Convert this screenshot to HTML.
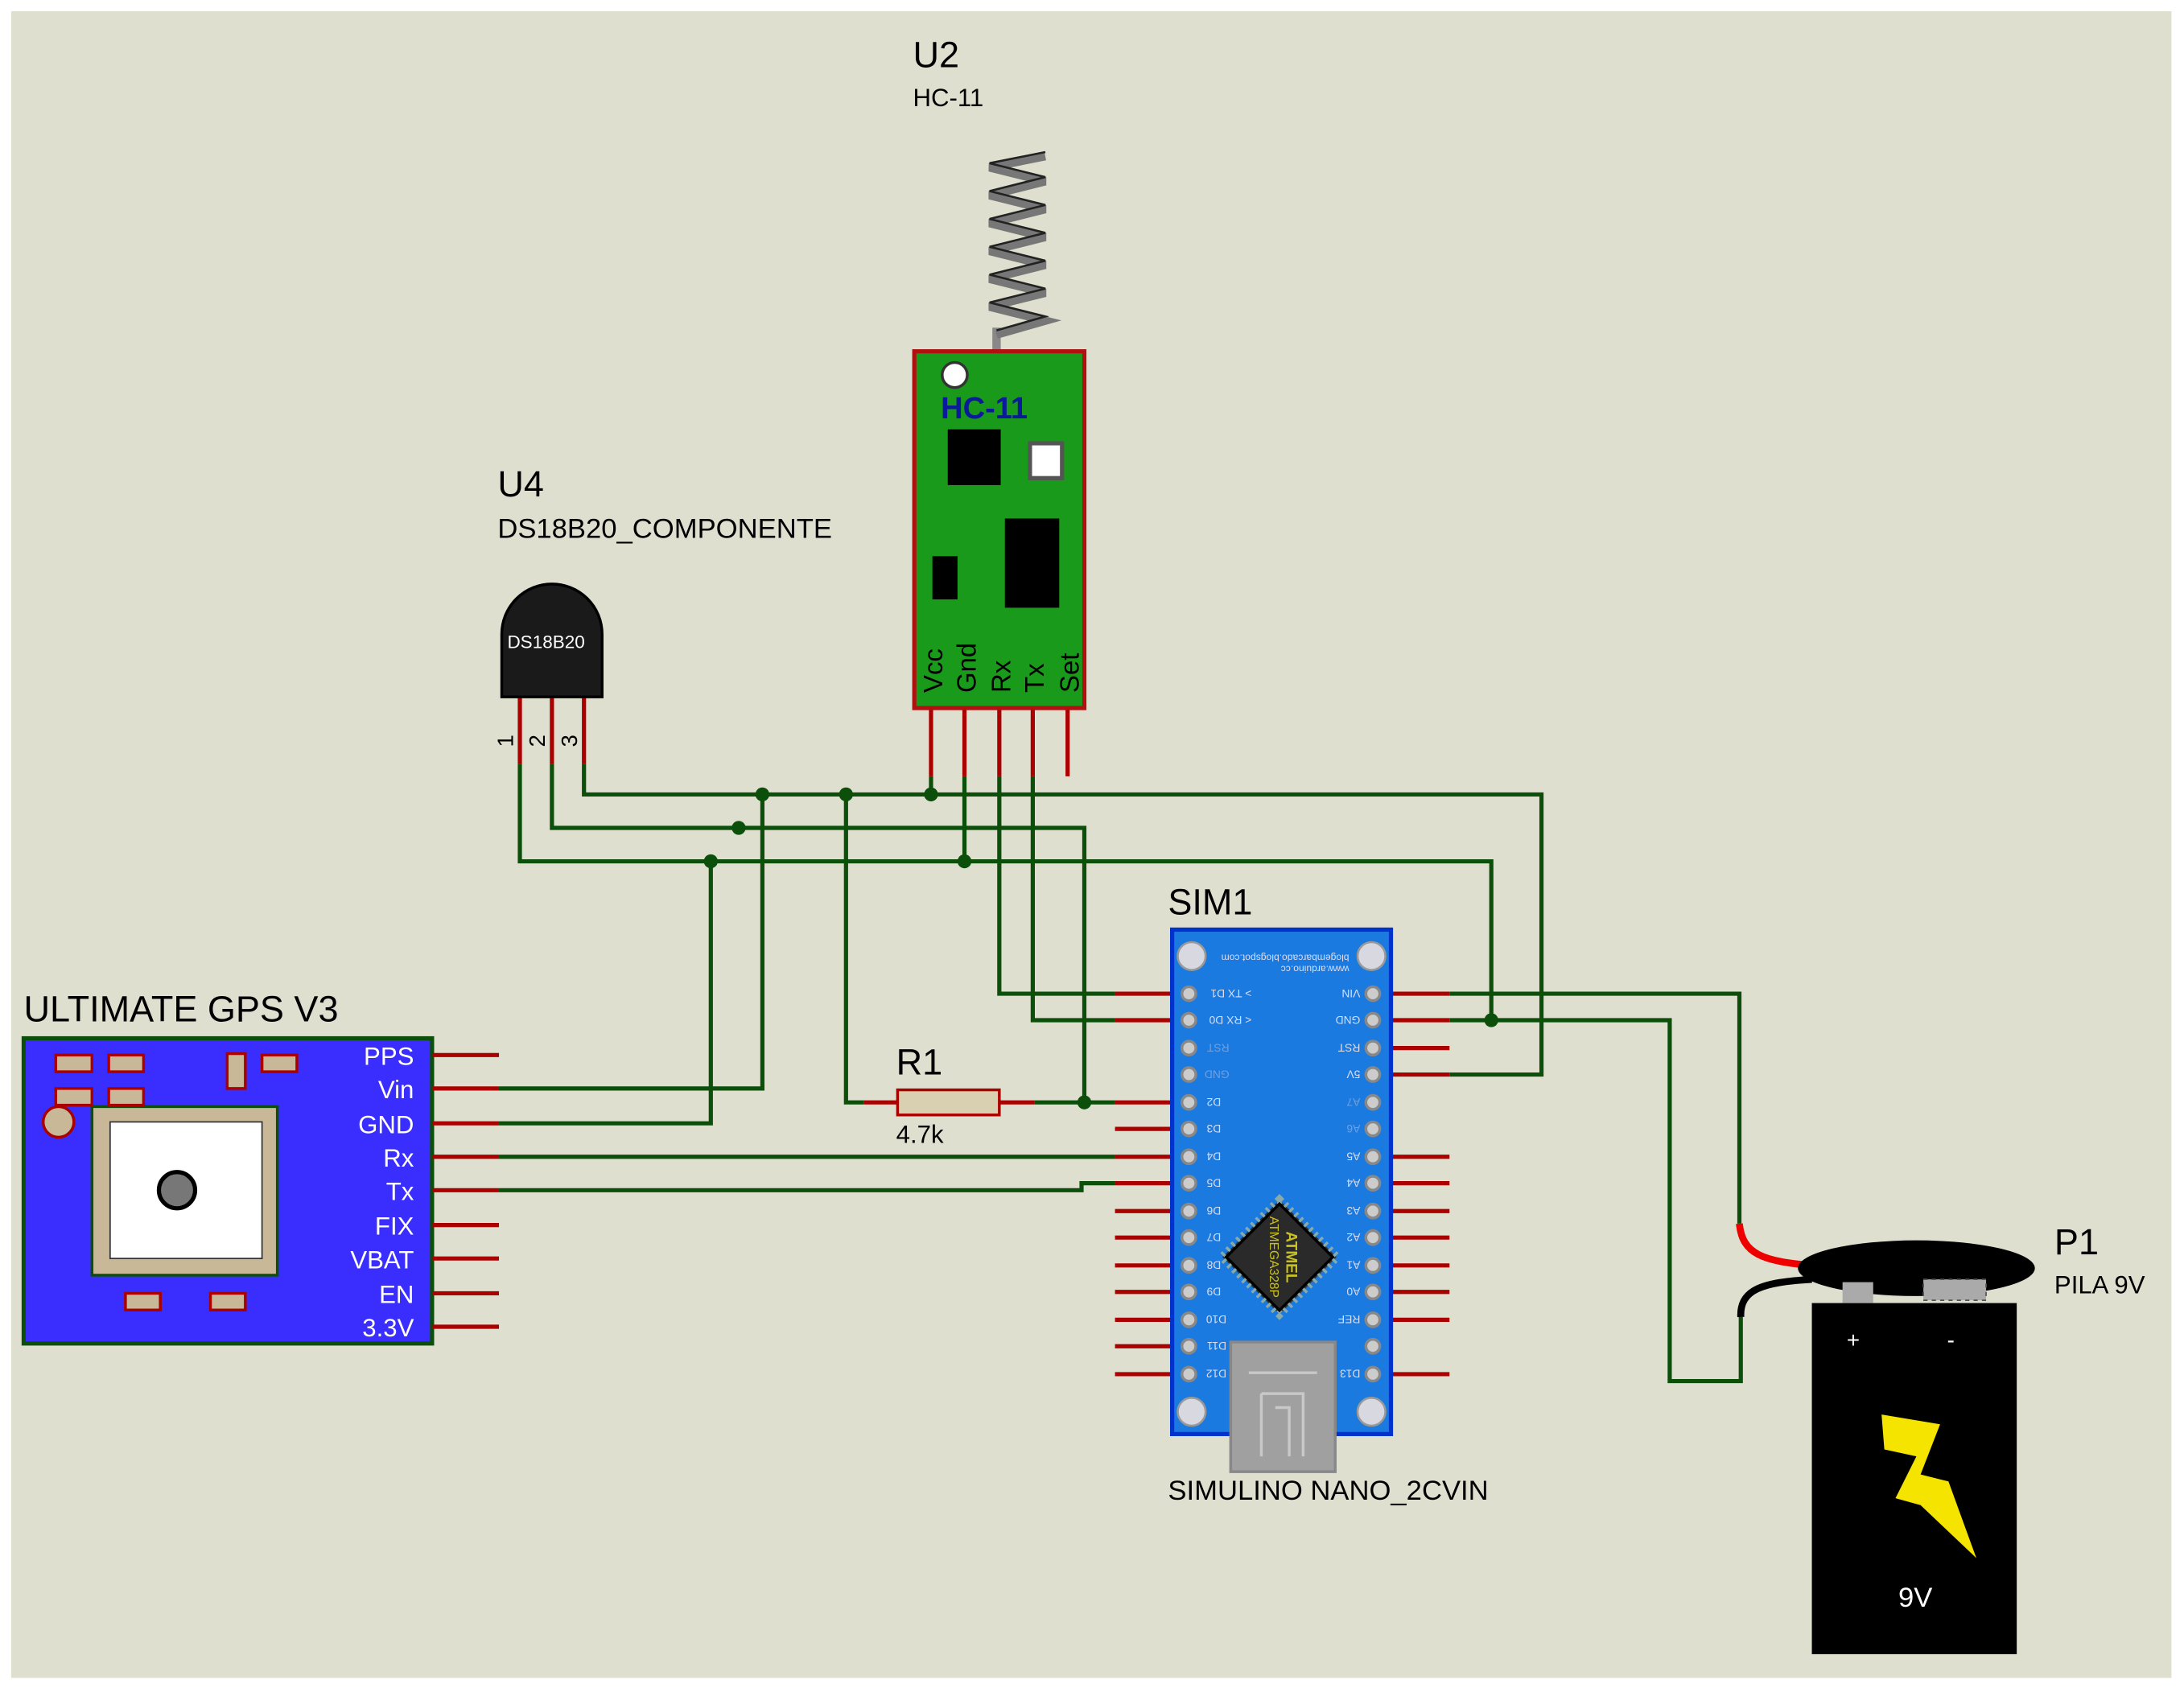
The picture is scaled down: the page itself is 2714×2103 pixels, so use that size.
<!DOCTYPE html>
<html><head><meta charset="utf-8"><style>
html,body{margin:0;padding:0;background:#fff;}
svg{display:block;}
text{font-family:"Liberation Sans",sans-serif;}
</style></head><body>
<svg width="2714" height="2103" viewBox="0 0 1567 1214" xmlns="http://www.w3.org/2000/svg">
<rect x="0" y="0" width="1567" height="1214" fill="#fff"/>
<rect x="8" y="8" width="1550" height="1196" fill="#dfdfcf"/>

<!-- wires -->
<g stroke="#0b4f0b" stroke-width="3" fill="none">
<polyline points="419,548 419,570 1106,570 1106,771 1040,771"/>
<polyline points="396,548 396,594 778,594 778,791"/>
<polyline points="373,548 373,618 1070,618 1070,732"/>
<polyline points="668,557 668,570"/>
<polyline points="692,557 692,618"/>
<polyline points="717,557 717,713 800,713"/>
<polyline points="741,557 741,732 800,732"/>
<polyline points="547,570 547,781 358,781"/>
<polyline points="510,618 510,806 358,806"/>
<polyline points="607,570 607,791 620,791"/>
<polyline points="742,791 800,791"/>
<polyline points="358,830 800,830"/>
<polyline points="358,854 776,854 776,849 800,849"/>
<polyline points="1040,713 1248,713 1248,878"/>
<polyline points="1040,732 1198,732 1198,991 1249,991 1249,945"/>
</g>
<g fill="#0b4f0b">
<circle cx="547" cy="570" r="5"/><circle cx="607" cy="570" r="5"/><circle cx="668" cy="570" r="5"/>
<circle cx="530" cy="594" r="5"/><circle cx="510" cy="618" r="5"/><circle cx="692" cy="618" r="5"/>
<circle cx="778" cy="791" r="5"/><circle cx="1070" cy="732" r="5"/>
</g>

<!-- GPS -->
<text x="17" y="733" font-size="26">ULTIMATE GPS V3</text>
<rect x="17" y="745" width="293" height="219" fill="#3a2eff" stroke="#0b4f0b" stroke-width="3"/>
<g stroke="#a00" stroke-width="3">
<line x1="310" y1="757" x2="358" y2="757"/><line x1="310" y1="781" x2="358" y2="781"/>
<line x1="310" y1="806" x2="358" y2="806"/><line x1="310" y1="830" x2="358" y2="830"/>
<line x1="310" y1="854" x2="358" y2="854"/><line x1="310" y1="879" x2="358" y2="879"/>
<line x1="310" y1="903" x2="358" y2="903"/><line x1="310" y1="928" x2="358" y2="928"/>
<line x1="310" y1="952" x2="358" y2="952"/>
</g>
<g font-size="18" fill="#fff" text-anchor="end">
<text x="297" y="764">PPS</text><text x="297" y="788">Vin</text><text x="297" y="813">GND</text>
<text x="297" y="837">Rx</text><text x="297" y="861">Tx</text><text x="297" y="886">FIX</text>
<text x="297" y="910">VBAT</text><text x="297" y="935">EN</text><text x="297" y="959">3.3V</text>
</g>
<rect x="66" y="794" width="133" height="121" fill="#c8b898" stroke="#0b4f0b" stroke-width="2"/>
<rect x="79" y="805" width="109" height="98" fill="#fff" stroke="#333" stroke-width="1"/>
<circle cx="127" cy="854" r="13" fill="#777" stroke="#000" stroke-width="3"/>
<circle cx="42" cy="805" r="11" fill="#c8b898" stroke="#a00" stroke-width="2"/>
<g fill="#c8b898" stroke="#a00" stroke-width="2">
<rect x="40" y="757" width="26" height="12"/><rect x="78" y="757" width="25" height="12"/>
<rect x="40" y="781" width="26" height="12"/><rect x="78" y="781" width="25" height="12"/>
<rect x="163" y="756" width="13" height="25"/><rect x="188" y="757" width="25" height="12"/>
<rect x="90" y="928" width="25" height="12"/><rect x="151" y="928" width="25" height="12"/>
</g>

<!-- DS18B20 -->
<text x="357" y="356" font-size="26">U4</text>
<text x="357" y="386" font-size="20">DS18B20_COMPONENTE</text>
<g stroke="#a00" stroke-width="3">
<line x1="373" y1="500" x2="373" y2="548"/><line x1="396" y1="500" x2="396" y2="548"/><line x1="419" y1="500" x2="419" y2="548"/>
</g>
<path d="M360,455 A36,36 0 0 1 432,455 L432,500 L360,500 Z" fill="#1a1a1a" stroke="#000" stroke-width="2"/>
<text x="364" y="465" font-size="13" fill="#fff">DS18B20</text>
<g font-size="16">
<text transform="translate(368,536) rotate(-90)">1</text>
<text transform="translate(391,536) rotate(-90)">2</text>
<text transform="translate(414,536) rotate(-90)">3</text>
</g>

<!-- HC-11 -->
<text x="655" y="48" font-size="26">U2</text>
<text x="655" y="76" font-size="18">HC-11</text>
<line x1="715" y1="235" x2="715" y2="272" stroke="#888" stroke-width="6"/>
<polyline points="715,240 750,230 710,220 750,210 710,200 750,190 710,180 750,170 710,160 750,150 710,140 750,130 710,120 750,112" fill="none" stroke="#777" stroke-width="6"/>
<polyline points="715,240 750,230 710,220 750,210 710,200 750,190 710,180 750,170 710,160 750,150 710,140 750,130 710,120 750,112" fill="none" stroke="#222" stroke-width="1.5" transform="translate(0,-3)"/>
<g stroke="#a00" stroke-width="3">
<line x1="668" y1="508" x2="668" y2="557"/><line x1="692" y1="508" x2="692" y2="557"/>
<line x1="717" y1="508" x2="717" y2="557"/><line x1="741" y1="508" x2="741" y2="557"/>
<line x1="766" y1="508" x2="766" y2="557"/>
</g>
<rect x="656" y="252" width="122" height="256" fill="#1a9a1a" stroke="#b01010" stroke-width="3"/>
<circle cx="685" cy="269" r="9" fill="#fff" stroke="#333" stroke-width="2"/>
<text x="675" y="300" font-size="22" font-weight="bold" fill="#0a1a9a">HC-11</text>
<rect x="680" y="308" width="38" height="40" fill="#000"/>
<rect x="739" y="318" width="23" height="25" fill="#fff" stroke="#555" stroke-width="3"/>
<rect x="721" y="372" width="39" height="64" fill="#000"/>
<rect x="669" y="399" width="18" height="31" fill="#000"/>
<g font-size="19">
<text transform="translate(676,497) rotate(-90)">Vcc</text>
<text transform="translate(700,497) rotate(-90)">Gnd</text>
<text transform="translate(725,497) rotate(-90)">Rx</text>
<text transform="translate(749,497) rotate(-90)">Tx</text>
<text transform="translate(774,497) rotate(-90)">Set</text>
</g>

<!-- R1 -->
<text x="643" y="771" font-size="26">R1</text>
<text x="643" y="820" font-size="18">4.7k</text>
<g stroke="#a00" stroke-width="3"><line x1="620" y1="791" x2="644" y2="791"/><line x1="717" y1="791" x2="742" y2="791"/></g>
<rect x="644" y="782" width="73" height="18" fill="#d8d0b0" stroke="#a00" stroke-width="2"/>

<!-- Nano -->
<text x="838" y="656" font-size="26">SIM1</text>
<text x="838" y="1076" font-size="20">SIMULINO NANO_2CVIN</text>
<g stroke="#a00" stroke-width="3">
<line x1="800" y1="713" x2="847" y2="713"/><line x1="800" y1="732" x2="847" y2="732"/>
<line x1="800" y1="791" x2="847" y2="791"/><line x1="800" y1="810" x2="847" y2="810"/>
<line x1="800" y1="830" x2="847" y2="830"/><line x1="800" y1="849" x2="847" y2="849"/>
<line x1="800" y1="869" x2="847" y2="869"/><line x1="800" y1="888" x2="847" y2="888"/>
<line x1="800" y1="908" x2="847" y2="908"/><line x1="800" y1="927" x2="847" y2="927"/>
<line x1="800" y1="947" x2="847" y2="947"/><line x1="800" y1="966" x2="847" y2="966"/>
<line x1="800" y1="986" x2="847" y2="986"/>
<line x1="990" y1="713" x2="1040" y2="713"/><line x1="990" y1="732" x2="1040" y2="732"/>
<line x1="990" y1="752" x2="1040" y2="752"/><line x1="990" y1="771" x2="1040" y2="771"/>
<line x1="990" y1="830" x2="1040" y2="830"/><line x1="990" y1="849" x2="1040" y2="849"/>
<line x1="990" y1="869" x2="1040" y2="869"/><line x1="990" y1="888" x2="1040" y2="888"/>
<line x1="990" y1="908" x2="1040" y2="908"/><line x1="990" y1="927" x2="1040" y2="927"/>
<line x1="990" y1="947" x2="1040" y2="947"/><line x1="990" y1="986" x2="1040" y2="986"/>
</g>
<rect x="841" y="667" width="157" height="362" fill="#1a7ae0" stroke="#0033cc" stroke-width="3"/>
<g fill="#d8d8e0" stroke="#999" stroke-width="1.5">
<circle cx="855" cy="686" r="10"/><circle cx="984" cy="686" r="10"/>
<circle cx="855" cy="1013" r="10"/><circle cx="984" cy="1013" r="10"/>
</g>
<g fill="#ccc" stroke="#888" stroke-width="2">
<circle cx="853" cy="713" r="5"/><circle cx="853" cy="732" r="5"/><circle cx="853" cy="752" r="5"/><circle cx="853" cy="771" r="5"/>
<circle cx="853" cy="791" r="5"/><circle cx="853" cy="810" r="5"/><circle cx="853" cy="830" r="5"/><circle cx="853" cy="849" r="5"/>
<circle cx="853" cy="869" r="5"/><circle cx="853" cy="888" r="5"/><circle cx="853" cy="908" r="5"/><circle cx="853" cy="927" r="5"/>
<circle cx="853" cy="947" r="5"/><circle cx="853" cy="966" r="5"/><circle cx="853" cy="986" r="5"/>
<circle cx="985" cy="713" r="5"/><circle cx="985" cy="732" r="5"/><circle cx="985" cy="752" r="5"/><circle cx="985" cy="771" r="5"/>
<circle cx="985" cy="791" r="5"/><circle cx="985" cy="810" r="5"/><circle cx="985" cy="830" r="5"/><circle cx="985" cy="849" r="5"/>
<circle cx="985" cy="869" r="5"/><circle cx="985" cy="888" r="5"/><circle cx="985" cy="908" r="5"/><circle cx="985" cy="927" r="5"/>
<circle cx="985" cy="947" r="5"/><circle cx="985" cy="966" r="5"/><circle cx="985" cy="986" r="5"/>
</g>
<g font-size="8" fill="#dde">
<text transform="translate(898,710) rotate(180)">&gt; TX D1</text>
<text transform="translate(898,729) rotate(180)">&lt; RX D0</text>
<text transform="translate(882,749) rotate(180)" fill="#6fa0e0">RST</text>
<text transform="translate(882,768) rotate(180)" fill="#6fa0e0">GND</text>
<text transform="translate(876,788) rotate(180)">D2</text><text transform="translate(876,807) rotate(180)">D3</text>
<text transform="translate(876,827) rotate(180)">D4</text><text transform="translate(876,846) rotate(180)">D5</text>
<text transform="translate(876,866) rotate(180)">D6</text><text transform="translate(876,885) rotate(180)">D7</text>
<text transform="translate(876,905) rotate(180)">D8</text><text transform="translate(876,924) rotate(180)">D9</text>
<text transform="translate(880,944) rotate(180)">D10</text><text transform="translate(880,963) rotate(180)">D11</text>
<text transform="translate(880,983) rotate(180)">D12</text>
<text transform="translate(976,710) rotate(180)">VIN</text><text transform="translate(976,729) rotate(180)">GND</text>
<text transform="translate(976,749) rotate(180)">RST</text><text transform="translate(976,768) rotate(180)">5V</text>
<text transform="translate(976,788) rotate(180)" fill="#6fa0e0">A7</text><text transform="translate(976,807) rotate(180)" fill="#6fa0e0">A6</text>
<text transform="translate(976,827) rotate(180)">A5</text><text transform="translate(976,846) rotate(180)">A4</text>
<text transform="translate(976,866) rotate(180)">A3</text><text transform="translate(976,885) rotate(180)">A2</text>
<text transform="translate(976,905) rotate(180)">A1</text><text transform="translate(976,924) rotate(180)">A0</text>
<text transform="translate(976,944) rotate(180)">REF</text><text transform="translate(976,983) rotate(180)">D13</text>
<text transform="translate(968,685) rotate(180)" font-size="7">blogembarcado.blogspot.com</text>
<text transform="translate(968,693) rotate(180)" font-size="7">www.arduino.cc</text>
</g>
<g transform="translate(918,902) rotate(45)">
<rect x="-29" y="-29" width="58" height="58" fill="#333" stroke="#8aa" stroke-width="6" stroke-dasharray="2,3"/>
<rect x="-27" y="-27" width="54" height="54" fill="#2a2a2a" stroke="#000" stroke-width="2"/>
</g>
<g transform="translate(918,902) rotate(90)" fill="#c8c020" text-anchor="middle">
<text x="0" y="-5" font-size="11" font-weight="bold">ATMEL</text>
<text x="0" y="7" font-size="9">ATMEGA328P</text>
</g>
<rect x="883" y="963" width="75" height="93" fill="#a0a0a0" stroke="#888" stroke-width="2"/>
<path d="M896,985 L945,985 M905,1000 L935,1000 L935,1045 M905,1000 L905,1045 M915,1010 L925,1010 L925,1045" stroke="#c8c8c8" stroke-width="2" fill="none"/>

<!-- Battery -->
<text x="1474" y="900" font-size="26">P1</text>
<text x="1474" y="928" font-size="18">PILA 9V</text>
<path d="M1248,878 C1250,900 1265,905 1300,908" stroke="#ee0000" stroke-width="5" fill="none"/>
<path d="M1249,945 C1248,925 1265,920 1300,918" stroke="#000" stroke-width="5" fill="none"/>
<rect x="1300" y="935" width="147" height="252" fill="#000"/>
<ellipse cx="1375" cy="910" rx="85" ry="20" fill="#000"/>
<rect x="1322" y="920" width="22" height="15" fill="#aaa"/>
<rect x="1380" y="918" width="45" height="15" fill="#aaa" stroke="#555" stroke-dasharray="3,3"/>
<text x="1325" y="967" font-size="16" fill="#fff">+</text>
<text x="1397" y="967" font-size="16" fill="#fff">-</text>
<polygon points="1350,1015 1392,1022 1378,1058 1398,1063 1418,1118 1378,1080 1360,1075 1375,1045 1352,1040" fill="#f5e400"/>
<text x="1362" y="1153" font-size="20" fill="#fff">9V</text>
</svg>
</body></html>
